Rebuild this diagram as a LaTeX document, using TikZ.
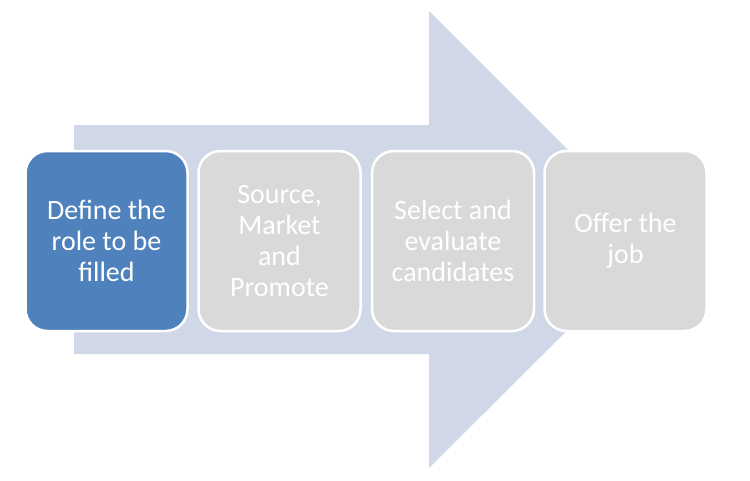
\documentclass[tikz,border=0pt]{standalone}
\usepackage{fontspec}
\setmainfont{Carlito}
\usetikzlibrary{positioning}
\definecolor{arrowfill}{HTML}{D0D8E8}
\definecolor{stepblue}{HTML}{4F81BD}
\definecolor{stepgrey}{HTML}{D9D9D9}
\begin{document}
\begin{tikzpicture}[x=1pt,y=-1pt,
	stepbox/.style={draw=white, line width=2.5pt, rounded corners=22pt, fill=stepgrey,
		minimum width=162pt, minimum height=180pt, align=center, text=white,
		font=\fontsize{28}{31}\selectfont, inner sep=0pt}]
	\useasboundingbox (0,0) rectangle (750,480);
	\fill [arrowfill] (74,125) -- (429,125) -- (429,11) -- (658,240) -- (429,468) -- (429,354) -- (74,354) -- cycle;
	\node [stepbox, fill=stepblue] (0) at (106.5, 241) {Define the\\role to be\\filled};
	\node [stepbox] (1) at (279.5, 241) {Source,\\Market\\and\\Promote};
	\node [stepbox] (2) at (453, 241) {Select and\\evaluate\\candidates};
	\node [stepbox] (3) at (625.5, 241) {Offer the\\job};
\end{tikzpicture}
\end{document}
